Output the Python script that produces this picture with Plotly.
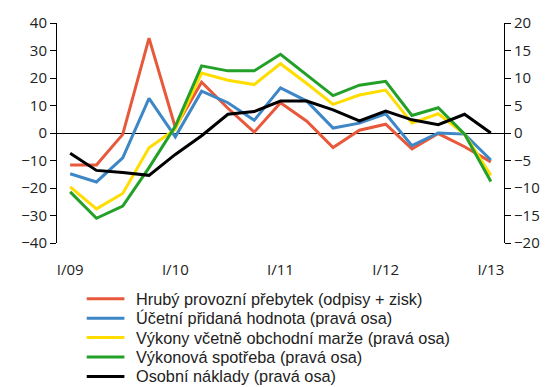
import plotly.graph_objects as go

# Quarterly data, I/2009 .. I/2013
quarters = ["I/09", "II/09", "III/09", "IV/09", "I/10", "II/10", "III/10", "IV/10",
            "I/11", "II/11", "III/11", "IV/11", "I/12", "II/12", "III/12", "IV/12", "I/13"]
tick_labels = ["I/09", "I/10", "I/11", "I/12", "I/13"]

# left axis
hruby_prebytek = [-11.6, -11.6, -0.5, 34.5, 2.0, 18.5, 9.0, 0.3,
                  11.0, 4.3, -5.3, 1.0, 3.2, -5.8, -0.2, -5.0, -10.5]
# right axis
pridana_hodnota = [-7.4, -8.9, -4.5, 6.3, -0.7, 7.6, 5.5, 2.3,
                   8.2, 5.8, 0.9, 1.8, 3.5, -2.3, 0.0, -0.2, -4.9]
vykony = [-9.8, -13.8, -11.0, -2.7, 0.7, 10.9, 9.6, 8.8,
          12.6, 9.0, 5.2, 6.9, 7.8, 1.8, 3.5, -0.2, -7.7]
spotreba = [-10.7, -15.5, -13.3, -6.3, 1.2, 12.2, 11.3, 11.3,
            14.3, 10.5, 6.8, 8.7, 9.4, 3.2, 4.6, -0.2, -8.8]
osobni_naklady = [-3.7, -6.8, -7.2, -7.7, -3.9, -0.5, 3.4, 3.9,
                  5.8, 5.8, 4.2, 2.2, 4.0, 2.4, 1.5, 3.4, 0.0]

x = list(range(len(quarters)))
tick_pos = [quarters.index(t) for t in tick_labels]

series = [
    ("Hrubý provozní přebytek (odpisy + zisk)", hruby_prebytek, "#E8583A", "y"),
    ("Účetní přidaná hodnota (pravá osa)", pridana_hodnota, "#3D87C6", "y2"),
    ("Výkony včetně obchodní marže (pravá osa)", vykony, "#FFDD00", "y2"),
    ("Výkonová spotřeba (pravá osa)", spotreba, "#22A028", "y2"),
    ("Osobní náklady (pravá osa)", osobni_naklady, "#000000", "y2"),
]

W, H = 552, 387
M_L, M_R, M_T, M_B = 57, 44, 22, 144
PW, PH = W - M_L - M_R, H - M_T - M_B


def px_to_paper(px, py):
    return (px - M_L) / PW, (H - M_B - py) / PH


fig = go.Figure()
for name, vals, color, ax in series:
    fig.add_trace(go.Scatter(x=x, y=vals, name=name, mode="lines",
                             line=dict(color=color, width=3), yaxis=ax,
                             showlegend=False))

# Compact legend below the plot: a short line key and a label per series
legend_font = "Liberation Sans, Arial, sans-serif"
row_top, row_step = 299, 19.5
for i, (name, _, color, _) in enumerate(series):
    cy = row_top + i * row_step
    x0, y0 = px_to_paper(87, cy)
    x1, _ = px_to_paper(125, cy)
    xt, _ = px_to_paper(136, cy)
    fig.add_shape(type="line", xref="paper", yref="paper",
                  x0=x0, x1=x1, y0=y0, y1=y0,
                  line=dict(color=color, width=3))
    fig.add_annotation(xref="paper", yref="paper", x=xt, y=y0,
                       xanchor="left", yanchor="middle", showarrow=False,
                       borderpad=0, text=name,
                       font=dict(family=legend_font, size=16.3, color="#222222"))

fig.update_layout(
    width=W, height=H,
    margin=dict(l=M_L, r=M_R, t=M_T, b=M_B),
    paper_bgcolor="white", plot_bgcolor="white",
    font=dict(family="Open Sans, Noto Sans, sans-serif", size=15, color="#222222"),
    showlegend=False,
    xaxis=dict(range=[-0.5, 16.5], tickmode="array", tickvals=tick_pos,
               ticktext=tick_labels, showgrid=False, zeroline=False,
               showline=False, ticks="", ticklabelstandoff=16),
    yaxis=dict(range=[-40, 40], dtick=10, showgrid=False, zeroline=True,
               zerolinecolor="black", zerolinewidth=1,
               showline=True, linecolor="black", linewidth=1,
               ticks="outside", ticklen=6, tickcolor="black"),
    yaxis2=dict(range=[-20, 20], dtick=5, overlaying="y", side="right",
                showgrid=False, zeroline=False,
                showline=True, linecolor="black", linewidth=1,
                ticks="outside", ticklen=6, tickcolor="black"),
)

fig.write_html("out.html")
